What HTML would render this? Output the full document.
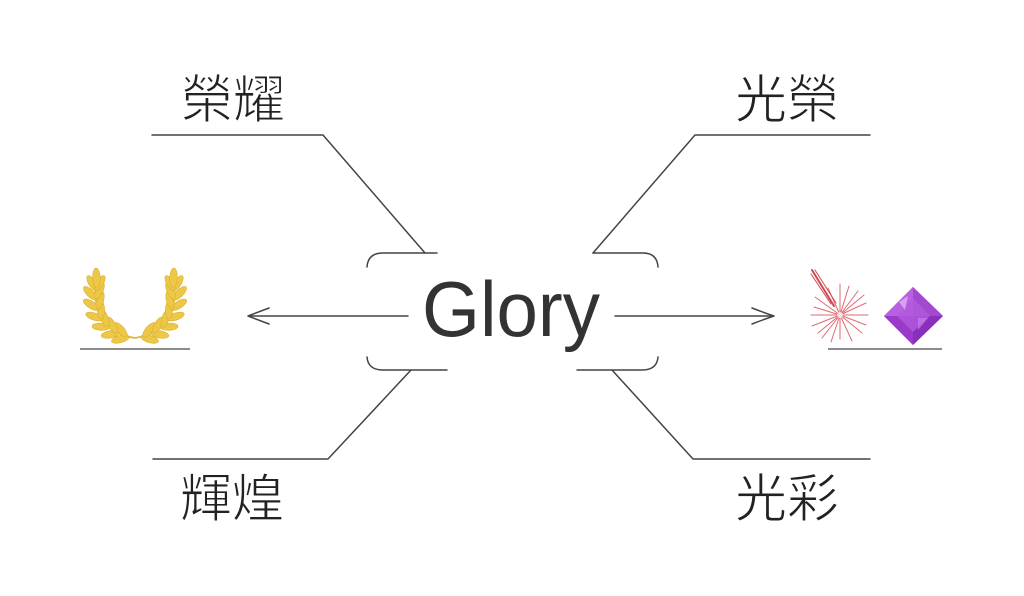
<!DOCTYPE html>
<html><head><meta charset="utf-8"><style>
html,body{margin:0;padding:0;background:#fff;}
svg{display:block;}
</style></head><body>
<svg width="1024" height="596" viewBox="0 0 1024 596" xmlns="http://www.w3.org/2000/svg">
<rect width="1024" height="596" fill="#fff"/>
<g fill="none" stroke="#444" stroke-width="1.5" stroke-linecap="round" stroke-linejoin="round">
  <!-- top-left -->
  <polyline points="152,135 323,135 425,253"/>
  <path d="M437,253 L383,253 Q368,253 367,267"/>
  <!-- top-right -->
  <polyline points="870,135 695,135 593,253"/>
  <path d="M593,253 L643,253 Q657,253 658,267"/>
  <!-- bottom-left -->
  <polyline points="153,459 328,459 411,370"/>
  <path d="M447,370 L383,370 Q368,370 367,357"/>
  <!-- bottom-right -->
  <polyline points="870,459 693,459 612,370"/>
  <path d="M577,370 L642,370 Q657,370 658,357"/>
  <!-- arrows -->
  <line x1="408" y1="316" x2="249" y2="316"/>
  <path d="M269,308 Q256,313 248,316 Q256,319 269,324"/>
  <line x1="615" y1="316" x2="773" y2="316"/>
  <path d="M752,308 Q765,313 774,316 Q765,319 752,324"/>
</g>
<!-- underlines -->
<line x1="80" y1="349" x2="190" y2="349" stroke="#666" stroke-width="1.5"/>
<line x1="828" y1="349" x2="942" y2="349" stroke="#666" stroke-width="1.5"/>

<!-- laurel -->
<g id="branch" fill="#EDC746" stroke="#DDAE2E" stroke-width="0.6">
  <path d="M135,338 Q88,330 97,278" fill="none" stroke="#E2B632" stroke-width="1.8"/>
  <ellipse cx="0" cy="-8" rx="3.6" ry="9" transform="translate(128,337) rotate(-105)"/>
  <ellipse cx="0" cy="-8" rx="3.6" ry="9" transform="translate(126,336) rotate(-40)"/>
  <ellipse cx="0" cy="-8" rx="3.6" ry="9" transform="translate(118,333) rotate(-100)"/>
  <ellipse cx="0" cy="-8" rx="3.6" ry="9" transform="translate(116,332) rotate(-30)"/>
  <ellipse cx="0" cy="-8" rx="3.6" ry="9" transform="translate(109,327) rotate(-88)"/>
  <ellipse cx="0" cy="-8" rx="3.6" ry="9" transform="translate(107,326) rotate(-18)"/>
  <ellipse cx="0" cy="-8" rx="3.6" ry="9" transform="translate(102,319) rotate(-72)"/>
  <ellipse cx="0" cy="-8" rx="3.6" ry="9" transform="translate(101,318) rotate(0)"/>
  <ellipse cx="0" cy="-8" rx="3.6" ry="9" transform="translate(98,309) rotate(-58)"/>
  <ellipse cx="0" cy="-8" rx="3.6" ry="9" transform="translate(98,308) rotate(15)"/>
  <ellipse cx="0" cy="-8" rx="3.6" ry="9" transform="translate(96,299) rotate(-45)"/>
  <ellipse cx="0" cy="-8" rx="3.6" ry="9" transform="translate(96,298) rotate(25)"/>
  <ellipse cx="0" cy="-8" rx="3.4" ry="8.5" transform="translate(96,290) rotate(-30)"/>
  <ellipse cx="0" cy="-8" rx="3.4" ry="8.5" transform="translate(96,290) rotate(30)"/>
  <ellipse cx="0" cy="-9" rx="3.8" ry="10" transform="translate(97,287) rotate(-3)"/>
</g>
<use href="#branch" transform="translate(270,0) scale(-1,1)"/>

<!-- sparkle -->
<g stroke="#DE6A72" stroke-width="1" stroke-linecap="round">
  <line x1="840" y1="315" x2="840" y2="284"/>
  <line x1="840" y1="315" x2="840" y2="339"/>
  <line x1="840" y1="315" x2="868" y2="315"/>
  <line x1="840" y1="315" x2="811" y2="315"/>
  <line x1="840" y1="315" x2="858" y2="291"/>
  <line x1="840" y1="315" x2="822" y2="338"/>
  <line x1="840" y1="315" x2="862" y2="333"/>
  <line x1="840" y1="315" x2="815" y2="297"/>
  <line x1="840" y1="315" x2="849" y2="286"/>
  <line x1="840" y1="315" x2="831" y2="342"/>
  <line x1="840" y1="315" x2="866" y2="303"/>
  <line x1="840" y1="315" x2="812" y2="326"/>
  <line x1="840" y1="315" x2="852" y2="341"/>
  <line x1="840" y1="315" x2="866" y2="325"/>
  <line x1="840" y1="315" x2="828" y2="288"/>
  <line x1="840" y1="315" x2="814" y2="307"/>
  <line x1="840" y1="315" x2="864" y2="295"/>
  <line x1="840" y1="315" x2="818" y2="333"/>
</g>
<circle cx="840" cy="315" r="3" fill="#fff" opacity="0.8"/>
<g stroke="#D04852" stroke-linecap="round">
  <line x1="812" y1="270" x2="834" y2="306" stroke-width="2"/>
  <line x1="815" y1="270" x2="836" y2="303" stroke-width="1"/>
  <line x1="811" y1="274" x2="831" y2="304" stroke-width="1"/>
</g>

<!-- diamond -->
<g>
  <polygon points="913,287 943,316 913,345 884,316" fill="#A844D6"/>
  <polygon points="913,287 884,316 913,316" fill="#B95FE2"/>
  <polygon points="913,287 943,316 913,316" fill="#A24ACF"/>
  <polygon points="884,316 913,345 913,316" fill="#9A3AC9"/>
  <polygon points="943,316 913,345 913,316" fill="#8A2FBD"/>
  <polygon points="913,298 930,316 913,332 897,316" fill="#B25ADE" opacity="0.8"/>
  <polygon points="899,302 908,296 905,310" fill="#E0B0F4" opacity="0.8"/>
  <polygon points="918,318 928,318 918,330" fill="#C57DE8" opacity="0.7"/>
</g>

<!-- texts -->
<g font-family="'Liberation Sans','Noto Sans CJK TC',sans-serif" fill="#222" font-size="52" stroke="#fff" stroke-width="1.1">
  <text x="181" y="118">榮耀</text>
  <text x="735" y="118">光榮</text>
  <text x="180" y="517">輝煌</text>
  <text x="735" y="517">光彩</text>
</g>
<text x="511" y="336" text-anchor="middle" font-family="'Liberation Sans',sans-serif" font-size="78" fill="#333" textLength="178" lengthAdjust="spacingAndGlyphs">Glory</text>
</svg>
</body></html>
